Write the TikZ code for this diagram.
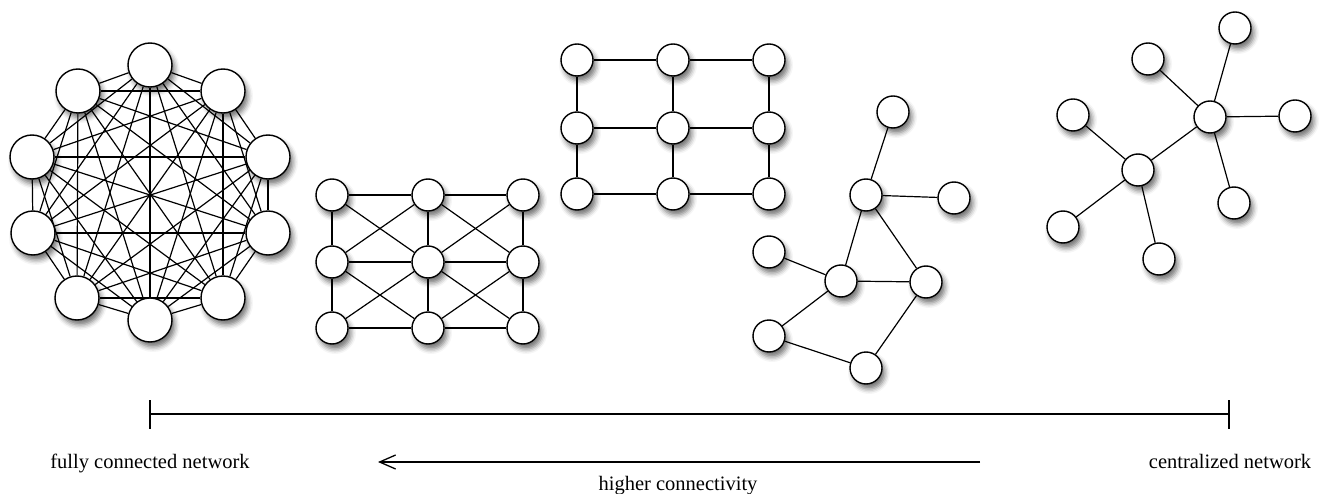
\documentclass[tikz,border=0pt]{standalone}
\usepackage{fontspec}
\setmainfont{Liberation Serif}
\usetikzlibrary{shadows.blur,arrows.meta}
\pgfdeclarelayer{background}
\pgfsetlayers{background,main}
\begin{document}
\begin{tikzpicture}[x=1bp,y=-1bp,
  vtx/.style={circle,draw,line width=1.4bp,fill=white,inner sep=0pt,
    blur shadow={shadow xshift=3bp,shadow yshift=-5bp,shadow blur radius=5bp,shadow opacity=55}},
  big/.style={vtx,minimum size=44bp},
  small/.style={vtx,minimum size=32bp},
  edge/.style={line width=1.2bp},
  lbl/.style={font=\fontsize{20.5bp}{24bp}\selectfont,anchor=base,inner sep=0pt}]
\useasboundingbox (0,0) rectangle (1325,494);
% fully connected network
\node[big] (f0) at (150,65) {};
\node[big] (f1) at (223,91) {};
\node[big] (f2) at (268,157) {};
\node[big] (f3) at (268,233) {};
\node[big] (f4) at (223,298) {};
\node[big] (f5) at (150,320) {};
\node[big] (f6) at (77,298) {};
\node[big] (f7) at (33,233) {};
\node[big] (f8) at (32,157) {};
\node[big] (f9) at (78,91) {};
% grid with diagonals
\foreach \c/\x in {0/332,1/428,2/523}{
  \foreach \r/\y in {0/195,1/262,2/328}{
    \node[small] (g\c\r) at (\x,\y) {};
  }
}
% plain grid
\foreach \c/\x in {0/577,1/673,2/769}{
  \foreach \r/\y in {0/60,1/128,2/194}{
    \node[small] (h\c\r) at (\x,\y) {};
  }
}
% decentralized network
\node[small] (rA) at (893,112) {};
\node[small] (rB) at (866,195) {};
\node[small] (rC) at (954,198) {};
\node[small] (rD) at (769,252) {};
\node[small] (rE) at (841,281) {};
\node[small] (rF) at (926,282) {};
\node[small] (rG) at (769,336) {};
\node[small] (rH) at (866,368) {};
% centralized network
\node[small] (s1) at (1210,117) {};
\node[small] (s2) at (1138,170) {};
\node[small] (sT) at (1235,28) {};
\node[small] (sU) at (1148,59) {};
\node[small] (sR) at (1295,116) {};
\node[small] (sL) at (1234,203) {};
\node[small] (sW) at (1073,115) {};
\node[small] (sB) at (1063,227) {};
\node[small] (sD) at (1159,259) {};
% all edges
\begin{pgfonlayer}{background}
\foreach \i in {0,...,8}{
  \pgfmathtruncatemacro\k{\i+1}
  \foreach \j in {\k,...,9}{\draw[edge] (f\i) -- (f\j);}
}
\foreach \c/\d in {0/1,1/2}{
  \foreach \r in {0,1,2}{\draw[edge] (g\c\r) -- (g\d\r);}
  \foreach \r/\s in {0/1,1/2}{
    \draw[edge] (g\c\r) -- (g\d\s);
    \draw[edge] (g\c\s) -- (g\d\r);
  }
}
\foreach \c in {0,1,2}{
  \draw[edge] (g\c0) -- (g\c1);
  \draw[edge] (g\c1) -- (g\c2);
}
\foreach \c/\d in {0/1,1/2}{
  \foreach \r in {0,1,2}{\draw[edge] (h\c\r) -- (h\d\r);}
}
\foreach \c in {0,1,2}{
  \draw[edge] (h\c0) -- (h\c1);
  \draw[edge] (h\c1) -- (h\c2);
}
\draw[edge] (rA) -- (rB);
\draw[edge] (rB) -- (rC);
\draw[edge] (rB) -- (rE);
\draw[edge] (rB) -- (rF);
\draw[edge] (rD) -- (rE);
\draw[edge] (rE) -- (rF);
\draw[edge] (rE) -- (rG);
\draw[edge] (rG) -- (rH);
\draw[edge] (rH) -- (rF);
\draw[edge] (s1) -- (sT);
\draw[edge] (s1) -- (sU);
\draw[edge] (s1) -- (sR);
\draw[edge] (s1) -- (sL);
\draw[edge] (s1) -- (s2);
\draw[edge] (s2) -- (sW);
\draw[edge] (s2) -- (sB);
\draw[edge] (s2) -- (sD);
\end{pgfonlayer}
% scale
\coordinate (sl) at (150,414);
\coordinate (sr) at (1229,414);
\coordinate (slt) at (150,400);
\coordinate (slb) at (150,429);
\coordinate (srt) at (1229,400);
\coordinate (srb) at (1229,429);
\draw[line width=1.6bp] (sl) -- (sr);
\draw[line width=1.2bp] (slt) -- (slb);
\draw[line width=1.2bp] (srt) -- (srb);
\node[lbl] (tfull) at (150,468) {fully connected network};
\node[lbl] (tcent) at (1230,468) {centralized network};
\coordinate (ar) at (980,462);
\coordinate (al) at (378,462);
\draw[line width=1.3bp,-{Straight Barb[length=16bp,width=14bp,line width=1.3bp]}] (ar) -- (al);
\node[lbl] (thigh) at (678,490) {higher connectivity};
\end{tikzpicture}
\end{document}
